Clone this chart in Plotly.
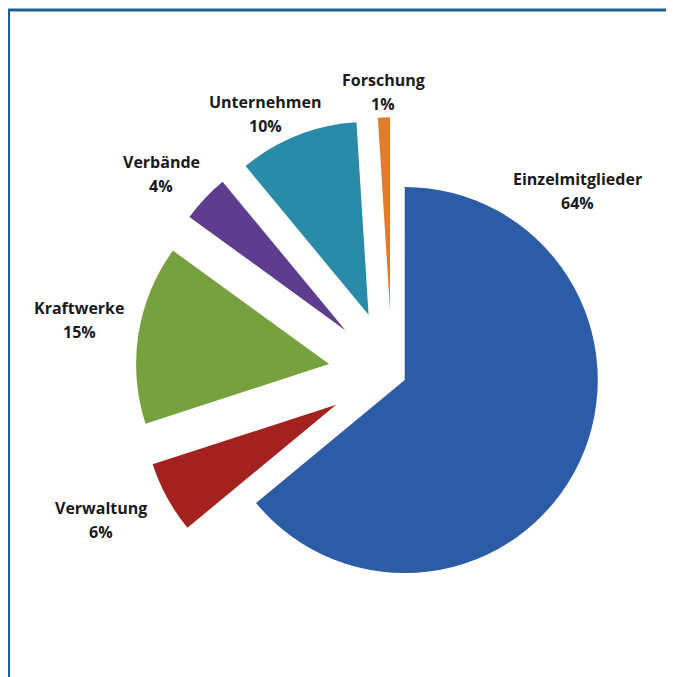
import plotly.graph_objects as go

categories = ["Einzelmitglieder", "Verwaltung", "Kraftwerke", "Verbände", "Unternehmen", "Forschung"]
values = [64, 6, 15, 4, 10, 1]
pulls = [0.073, 0.33, 0.33, 0.33, 0.33, 0.33]
colors = ["#2D5CA6", "#A3211F", "#77A13E", "#5E3D8E", "#2A8BA8", "#E27B2A"]

# the page places the figure 8px in from the window's top-left corner
OFF = 8
W, H = 674 - OFF, 677 - OFF
cx, cy, r = 392 - OFF, 374 - OFF, 193
half = r * (1 + max(pulls))

fig = go.Figure(go.Pie(
    labels=categories,
    values=values,
    pull=pulls,
    sort=False,
    direction="clockwise",
    rotation=0,
    marker=dict(colors=colors, line=dict(width=0)),
    textinfo="none",
    hoverinfo="label+percent",
    showlegend=False,
    domain=dict(x=[max(0, (cx - half) / W), min(1, (cx + half) / W)],
                y=[max(0, 1 - (cy + half) / H), min(1, 1 - (cy - half) / H)]),
))

# label anchor positions (window pixel centers of the name line)
label_pos = {
    "Einzelmitglieder": (577, 179),
    "Verwaltung": (101, 508),
    "Kraftwerke": (79, 308),
    "Verbände": (161, 162),
    "Unternehmen": (265, 102),
    "Forschung": (383, 80),
}
total = sum(values)
font = dict(family="Open Sans", size=16, color="#1a1a1a")
for cat, v in zip(categories, values):
    px, py = label_pos[cat]
    px, py = px - OFF, py - OFF
    fig.add_annotation(x=px / W, y=1 - py / H, xref="paper", yref="paper",
                       text=f"<b>{cat}</b>", showarrow=False, font=font,
                       xanchor="center", yanchor="middle")
    fig.add_annotation(x=px / W, y=1 - (py + 24) / H, xref="paper", yref="paper",
                       text=f"<b>{round(100 * v / total)}%</b>", showarrow=False, font=font,
                       xanchor="center", yanchor="middle")

frame = "#1F5E96"
fig.add_shape(type="line", xref="paper", yref="paper", x0=0, x1=1, y0=1 - 2 / H, y1=1 - 2 / H,
              line=dict(color=frame, width=3))
fig.add_shape(type="line", xref="paper", yref="paper", x0=0.5 / W, x1=0.5 / W, y0=0, y1=1 - 2 / H,
              line=dict(color=frame, width=3))

fig.update_layout(width=W, height=H, margin=dict(l=0, r=0, t=0, b=0),
                  paper_bgcolor="white", plot_bgcolor="white")
fig.write_html("out.html")
